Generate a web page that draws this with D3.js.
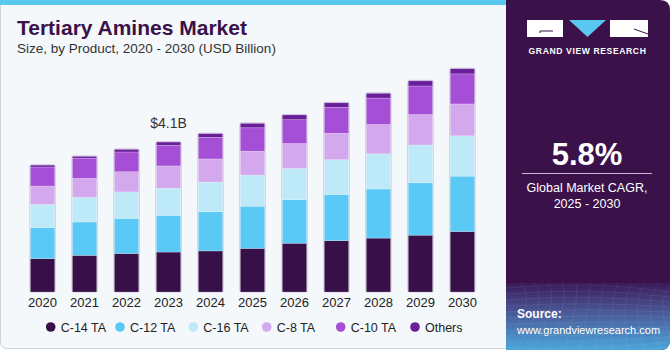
<!DOCTYPE html>
<html>
<head>
<meta charset="utf-8">
<script src="https://cdn.jsdelivr.net/npm/d3@7"></script>
<style>
  body { margin: 0; background: #ffffff; }
  svg { display: block; font-family: "Liberation Sans", Arial, sans-serif; }
</style>
</head>
<body>
<div id="chart"></div>
<script>
// chart data (USD Billion)
const years = ["2020", "2021", "2022", "2023", "2024", "2025", "2026", "2027", "2028", "2029", "2030"];
const seriesNames = ["C-14 TA", "C-12 TA", "C-16 TA", "C-8 TA", "C-10 TA", "Others"];
const c14 = [0.91, 1.00, 1.05, 1.09, 1.12, 1.19, 1.33, 1.40, 1.47, 1.55, 1.65];
const c12 = [0.85, 0.91, 0.96, 1.00, 1.07, 1.15, 1.19, 1.26, 1.34, 1.43, 1.51];
const c16 = [0.63, 0.67, 0.72, 0.74, 0.81, 0.85, 0.85, 0.95, 0.96, 1.03, 1.10];
const c8 = [0.50, 0.52, 0.55, 0.61, 0.63, 0.65, 0.68, 0.72, 0.80, 0.83, 0.87];
const c10 = [0.52, 0.55, 0.54, 0.56, 0.59, 0.64, 0.65, 0.71, 0.72, 0.78, 0.82];
const others = [0.05, 0.05, 0.07, 0.09, 0.10, 0.12, 0.13, 0.12, 0.13, 0.14, 0.14];
const colors = ["#37104a", "#5bc9f5", "#bde9f9", "#d4a8ec", "#a44fd6", "#6a1f9a"];
const annotation = { year: "2023", label: "$4.1B" };

const W = 670, H = 350;
const svg = d3.select("#chart").append("svg")
  .attr("width", W)
  .attr("height", H);

// left panel
svg.append("rect")
  .attr("x", 0.5).attr("y", 0.5)
  .attr("width", 520).attr("height", 348)
  .attr("rx", 6)
  .attr("fill", "#f4f8fb")
  .attr("stroke", "#d0d4d8");
svg.append("rect")
  .attr("x", 0).attr("y", 0)
  .attr("width", 507).attr("height", 5)
  .attr("fill", "#5bc8f0");

// title
svg.append("text")
  .attr("x", 17).attr("y", 35)
  .attr("font-size", 21).attr("font-weight", "bold")
  .attr("fill", "#3a1149")
  .text("Tertiary Amines Market");
svg.append("text")
  .attr("x", 17).attr("y", 53)
  .attr("font-size", 13.5)
  .attr("fill", "#333")
  .text("Size, by Product, 2020 - 2030 (USD Billion)");

// scales
const x = d3.scaleBand()
  .domain(years)
  .range([22, 483])
  .paddingInner(0.42)
  .paddingOuter(0.2);
const y = d3.scaleLinear()
  .domain([0, 4.1])
  .range([292, 141.7]);

const table = years.map((yr, i) => ({
  year: yr,
  "C-14 TA": c14[i], "C-12 TA": c12[i], "C-16 TA": c16[i],
  "C-8 TA": c8[i], "C-10 TA": c10[i], "Others": others[i]
}));
const stacked = d3.stack().keys(seriesNames)(table);
const totals = table.map(d => d3.sum(seriesNames, k => d[k]));

// bar outlines
svg.append("g").selectAll("rect")
  .data(table)
  .join("rect")
    .attr("x", d => x(d.year) - 0.5)
    .attr("y", (d, i) => y(totals[i]) - 0.5)
    .attr("width", x.bandwidth() + 1)
    .attr("height", (d, i) => y(0) - y(totals[i]) + 0.5)
    .attr("rx", 2)
    .attr("fill", "none")
    .attr("stroke", "#cfc4dc")
    .attr("stroke-width", 1);

// stacked segments
const layer = svg.append("g").selectAll("g")
  .data(stacked)
  .join("g")
    .attr("fill", (d, i) => colors[i]);

layer.selectAll("rect")
  .data(d => d)
  .join("rect")
    .attr("x", d => x(d.data.year))
    .attr("y", d => y(d[1]))
    .attr("width", x.bandwidth())
    .attr("height", d => y(d[0]) - y(d[1]))
    .attr("stroke", "rgba(255,255,255,0.35)")
    .attr("stroke-width", 0.6);

// x axis labels
const xAxis = d3.axisBottom(x).tickSize(0).tickPadding(6);
const gx = svg.append("g")
  .attr("transform", "translate(0,292)")
  .call(xAxis);
gx.select(".domain").remove();
gx.selectAll("text")
  .attr("font-size", 13)
  .attr("font-family", "Liberation Sans, Arial, sans-serif")
  .attr("fill", "#222");

// annotation
const ai = years.indexOf(annotation.year);
svg.append("text")
  .attr("x", x(annotation.year) + x.bandwidth() / 2)
  .attr("y", y(totals[ai]) - 14)
  .attr("text-anchor", "middle")
  .attr("font-size", 14)
  .attr("fill", "#333")
  .text(annotation.label);

// legend
const legendX = [50.7, 120, 193.3, 266.7, 340.7, 415];
const legend = svg.append("g").selectAll("g")
  .data(seriesNames)
  .join("g")
    .attr("transform", (d, i) => `translate(${legendX[i]},327)`);
legend.append("circle")
  .attr("r", 4.8)
  .attr("fill", (d, i) => colors[i]);
legend.append("text")
  .attr("x", 10)
  .attr("y", 4.5)
  .attr("font-size", 12.5)
  .attr("fill", "#222")
  .text(d => d);

// right panel
const defs = svg.append("defs");
const grad = defs.append("linearGradient")
  .attr("id", "srcGrad")
  .attr("x1", 0).attr("y1", 0).attr("x2", 0).attr("y2", 1);
grad.append("stop").attr("offset", "0%").attr("stop-color", "#3a1a5a");
grad.append("stop").attr("offset", "45%").attr("stop-color", "#4a5a98");
grad.append("stop").attr("offset", "100%").attr("stop-color", "#4aa6dc");

const clip = defs.append("clipPath").attr("id", "panelClip");
clip.append("path")
  .attr("d", "M506,0 H660 Q670,0 670,10 V340 Q670,350 660,350 H506 Z");

const panel = svg.append("g").attr("clip-path", "url(#panelClip)");
panel.append("rect")
  .attr("x", 506).attr("y", 0)
  .attr("width", 164).attr("height", 350)
  .attr("fill", "#3a1149");
panel.append("rect")
  .attr("x", 506).attr("y", 283)
  .attr("width", 164).attr("height", 67)
  .attr("fill", "url(#srcGrad)");

// faint grid pattern in the source box
const mesh = panel.append("g")
  .attr("stroke", "rgba(255,255,255,0.12)")
  .attr("stroke-width", 0.6)
  .attr("fill", "none");
d3.range(0, 12).forEach(i => {
  mesh.append("path").attr("d", `M${500 + i * 16},350 Q${540 + i * 10},300 ${520 + i * 14},283`);
  mesh.append("path").attr("d", `M506,${288 + i * 6} Q590,${280 + i * 7} 670,${292 + i * 5}`);
});

// logo
const logo = svg.append("g");
logo.append("rect").attr("x", 527).attr("y", 20).attr("width", 36).attr("height", 17).attr("fill", "#fff");
logo.append("path").attr("d", "M553,31 H540 V33").attr("stroke", "#3a1149").attr("stroke-width", 1).attr("fill", "none");
logo.append("path").attr("d", "M569,20 L606,20 L587.5,37 Z").attr("fill", "#5bc8f0");
logo.append("rect").attr("x", 610).attr("y", 20).attr("width", 38).attr("height", 17).attr("fill", "#fff");
logo.append("path").attr("d", "M634,29 L648,34").attr("stroke", "#3a1149").attr("stroke-width", 1);
logo.append("text")
  .attr("x", 587.5).attr("y", 54)
  .attr("text-anchor", "middle")
  .attr("font-size", 8.6).attr("font-weight", "bold")
  .attr("letter-spacing", 0.6)
  .attr("fill", "#fff")
  .text("GRAND VIEW RESEARCH");

// CAGR
svg.append("text")
  .attr("x", 587).attr("y", 165)
  .attr("text-anchor", "middle")
  .attr("font-size", 31).attr("font-weight", "bold")
  .attr("fill", "#fff")
  .text("5.8%");
svg.append("line")
  .attr("x1", 522).attr("x2", 652)
  .attr("y1", 173.5).attr("y2", 173.5)
  .attr("stroke", "#cbbad6").attr("stroke-width", 1);
svg.append("text")
  .attr("x", 587).attr("y", 192)
  .attr("text-anchor", "middle")
  .attr("font-size", 12.5)
  .attr("fill", "#fff")
  .text("Global Market CAGR,");
svg.append("text")
  .attr("x", 587).attr("y", 208)
  .attr("text-anchor", "middle")
  .attr("font-size", 12.5)
  .attr("fill", "#fff")
  .text("2025 - 2030");

// source
svg.append("text")
  .attr("x", 517).attr("y", 318)
  .attr("font-size", 12).attr("font-weight", "bold")
  .attr("fill", "#fff")
  .text("Source:");
svg.append("text")
  .attr("x", 517).attr("y", 334)
  .attr("font-size", 11)
  .attr("fill", "#fff")
  .text("www.grandviewresearch.com");
</script>
</body>
</html>
